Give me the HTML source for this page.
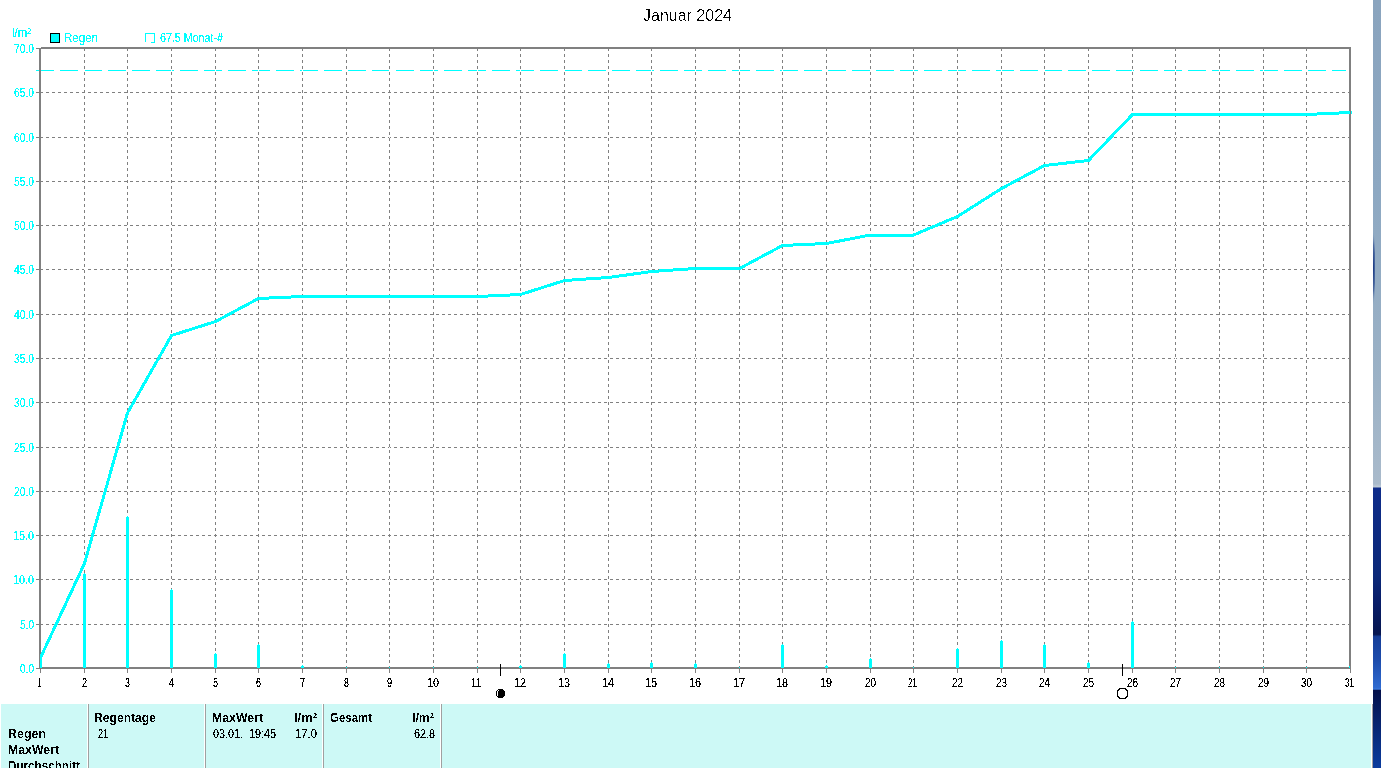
<!DOCTYPE html><html><head><meta charset="utf-8"><title>Januar 2024</title><style>
html,body{margin:0;padding:0;background:#fff;width:1381px;height:768px;overflow:hidden}
svg{display:block;position:absolute;left:0;top:0}
text{font-family:"Liberation Sans",Arial,sans-serif}
.s{font-size:12.5px}
.b{font-size:12px;font-weight:bold}
.t{font-size:16px}
</style></head><body>
<svg width="1381" height="768" viewBox="0 0 1381 768">
<defs><linearGradient id="wp" x1="0" y1="0" x2="0" y2="1"><stop offset="0" stop-color="#8aa4be"/><stop offset="0.25" stop-color="#8da8c2"/><stop offset="0.5" stop-color="#9cb2c6"/><stop offset="0.63" stop-color="#a9bacb"/><stop offset="0.6341" stop-color="#c0ccd8"/><stop offset="0.6354" stop-color="#0e2c8a"/><stop offset="0.75" stop-color="#0b2878"/><stop offset="0.785" stop-color="#081d68"/><stop offset="0.826" stop-color="#061650"/><stop offset="0.829" stop-color="#163e98"/><stop offset="0.86" stop-color="#1d4cac"/><stop offset="0.895" stop-color="#2f6ad0"/><stop offset="0.8975" stop-color="#3a78dc"/><stop offset="0.8985" stop-color="#03104a"/><stop offset="0.923" stop-color="#061c60"/><stop offset="1.0" stop-color="#0b3c9e"/></linearGradient><filter id="cr"><feComponentTransfer><feFuncA type="discrete" tableValues="0 1"/></feComponentTransfer></filter><filter id="cs"><feComponentTransfer><feFuncA type="discrete" tableValues="0 0 1 1 1"/></feComponentTransfer></filter><filter id="ct"><feComponentTransfer><feFuncA type="discrete" tableValues="0 0 0 1 1"/></feComponentTransfer></filter><clipPath id="cw"><rect x="1373" y="0" width="8" height="768"/></clipPath><radialGradient id="st"><stop offset="0" stop-color="#1a3a84"/><stop offset="0.6" stop-color="#3a5a98" stop-opacity="0.8"/><stop offset="1" stop-color="#8daac4" stop-opacity="0"/></radialGradient></defs>
<rect x="1373" y="0" width="8" height="768" fill="url(#wp)"/>
<ellipse clip-path="url(#cw)" cx="1373.6" cy="268" rx="2.0" ry="38" fill="url(#st)"/>
<rect x="1" y="704" width="1372" height="64" fill="#cdf9f6"/>
<g shape-rendering="crispEdges">
<rect x="87" y="704" width="1" height="64" fill="#ffffff"/>
<rect x="88" y="704" width="1" height="64" fill="#a0a0a0"/>
<rect x="204" y="704" width="1" height="64" fill="#ffffff"/>
<rect x="205" y="704" width="1" height="64" fill="#a0a0a0"/>
<rect x="322" y="704" width="1" height="64" fill="#ffffff"/>
<rect x="323" y="704" width="1" height="64" fill="#a0a0a0"/>
<rect x="440" y="704" width="1" height="64" fill="#ffffff"/>
<rect x="441" y="704" width="1" height="64" fill="#a0a0a0"/>
<rect x="1371" y="704" width="1" height="64" fill="#ffffff"/>
<rect x="1372" y="704" width="1" height="64" fill="#a0a0a0"/>
</g>
<g shape-rendering="crispEdges" fill="none" stroke="#808080" stroke-width="1">
<path stroke-dasharray="3 3" d="M40 624.5H1349M40 579.5H1349M40 535.5H1349M40 491.5H1349M40 447.5H1349M40 402.5H1349M40 358.5H1349M40 314.5H1349M40 269.5H1349M40 225.5H1349M40 181.5H1349M40 137.5H1349M40 92.5H1349"/>
<path d="M36 668.5H39M36 624.5H39M36 579.5H39M36 535.5H39M36 491.5H39M36 447.5H39M36 402.5H39M36 358.5H39M36 314.5H39M36 269.5H39M36 225.5H39M36 181.5H39M36 137.5H39M36 92.5H39M36 48.5H39M40.5 669V673M84.5 669V673M127.5 669V673M171.5 669V673M215.5 669V673M258.5 669V673M302.5 669V673M346.5 669V673M389.5 669V673M433.5 669V673M477.5 669V673M520.5 669V673M564.5 669V673M608.5 669V673M651.5 669V673M695.5 669V673M739.5 669V673M782.5 669V673M826.5 669V673M870.5 669V673M913.5 669V673M957.5 669V673M1001.5 669V673M1044.5 669V673M1088.5 669V673M1132.5 669V673M1175.5 669V673M1219.5 669V673M1263.5 669V673M1306.5 669V673M1350.5 669V673"/>
</g>
<path shape-rendering="crispEdges" stroke="#00ffff" stroke-width="1" stroke-dasharray="18 6" d="M36 70.5H1346"/>
<g shape-rendering="crispEdges" fill="none" stroke-width="1"><path stroke="#fff" d="M84.5 48V668M127.5 48V668M171.5 48V668M215.5 48V668M258.5 48V668M302.5 48V668M346.5 48V668M389.5 48V668M433.5 48V668M477.5 48V668M520.5 48V668M564.5 48V668M608.5 48V668M651.5 48V668M695.5 48V668M739.5 48V668M782.5 48V668M826.5 48V668M870.5 48V668M913.5 48V668M957.5 48V668M1001.5 48V668M1044.5 48V668M1088.5 48V668M1132.5 48V668M1175.5 48V668M1219.5 48V668M1263.5 48V668M1306.5 48V668"/><path stroke="#808080" stroke-dasharray="3 3" d="M84.5 48V668M127.5 48V668M171.5 48V668M215.5 48V668M258.5 48V668M302.5 48V668M346.5 48V668M389.5 48V668M433.5 48V668M477.5 48V668M520.5 48V668M564.5 48V668M608.5 48V668M651.5 48V668M695.5 48V668M739.5 48V668M782.5 48V668M826.5 48V668M870.5 48V668M913.5 48V668M957.5 48V668M1001.5 48V668M1044.5 48V668M1088.5 48V668M1132.5 48V668M1175.5 48V668M1219.5 48V668M1263.5 48V668M1306.5 48V668"/></g>
<g shape-rendering="crispEdges" fill="#808080">
<rect x="41" y="47" width="1310" height="1"/>
<rect x="36" y="48" width="1315" height="1"/>
<rect x="39" y="48" width="2" height="621"/>
<rect x="1349" y="47" width="2" height="622"/>
<rect x="39" y="667" width="1312" height="2"/>
<rect x="36" y="668" width="3" height="1"/>
</g>
<g shape-rendering="crispEdges" fill="#00ffff">
<rect x="40" y="655" width="2" height="13"/>
<rect x="40" y="654" width="1" height="1"/>
<rect x="83" y="574" width="3" height="94"/>
<rect x="84" y="573" width="1" height="1"/>
<rect x="126" y="517" width="3" height="151"/>
<rect x="127" y="516" width="1" height="1"/>
<rect x="170" y="590" width="3" height="78"/>
<rect x="171" y="589" width="1" height="1"/>
<rect x="214" y="654" width="3" height="14"/>
<rect x="215" y="653" width="1" height="1"/>
<rect x="257" y="645" width="3" height="23"/>
<rect x="258" y="644" width="1" height="1"/>
<rect x="301" y="666" width="3" height="2"/>
<rect x="302" y="665" width="1" height="1"/>
<rect x="346" y="667" width="1" height="1"/>
<rect x="389" y="667" width="1" height="1"/>
<rect x="433" y="667" width="1" height="1"/>
<rect x="477" y="667" width="1" height="1"/>
<rect x="519" y="666" width="3" height="2"/>
<rect x="520" y="665" width="1" height="1"/>
<rect x="563" y="654" width="3" height="14"/>
<rect x="564" y="653" width="1" height="1"/>
<rect x="607" y="664" width="3" height="4"/>
<rect x="608" y="663" width="1" height="1"/>
<rect x="650" y="663" width="3" height="5"/>
<rect x="651" y="662" width="1" height="1"/>
<rect x="694" y="664" width="3" height="4"/>
<rect x="695" y="663" width="1" height="1"/>
<rect x="739" y="667" width="1" height="1"/>
<rect x="781" y="645" width="3" height="23"/>
<rect x="782" y="644" width="1" height="1"/>
<rect x="825" y="666" width="3" height="2"/>
<rect x="826" y="665" width="1" height="1"/>
<rect x="869" y="659" width="3" height="9"/>
<rect x="870" y="658" width="1" height="1"/>
<rect x="913" y="667" width="1" height="1"/>
<rect x="956" y="649" width="3" height="19"/>
<rect x="957" y="648" width="1" height="1"/>
<rect x="1000" y="641" width="3" height="27"/>
<rect x="1001" y="640" width="1" height="1"/>
<rect x="1043" y="645" width="3" height="23"/>
<rect x="1044" y="644" width="1" height="1"/>
<rect x="1087" y="663" width="3" height="5"/>
<rect x="1088" y="662" width="1" height="1"/>
<rect x="1131" y="622" width="3" height="46"/>
<rect x="1132" y="621" width="1" height="1"/>
<rect x="1175" y="667" width="1" height="1"/>
<rect x="1219" y="667" width="1" height="1"/>
<rect x="1263" y="667" width="1" height="1"/>
<rect x="1306" y="667" width="1" height="1"/>
<rect x="1349" y="666" width="1" height="2"/>
</g>
<polyline shape-rendering="crispEdges" fill="none" stroke="#00ffff" stroke-width="3" stroke-linejoin="round" stroke-linecap="round" points="40.5,657.7 84.5,563.5 127.5,413.0 171.5,335.5 215.5,321.5 258.5,298.5 302.5,296.5 346.5,296.5 389.5,296.5 433.5,296.5 477.5,296.5 520.5,294.5 564.5,280.5 608.5,277.5 651.5,271.5 695.5,268.5 739.5,268.5 782.5,245.5 826.5,243.5 870.5,235.0 913.5,235.0 957.5,216.5 1001.5,188.5 1044.5,165.5 1088.5,160.5 1132.5,114.5 1175.5,114.5 1219.5,114.5 1263.5,114.5 1306.5,114.5 1350.5,112.5"/>
<g shape-rendering="crispEdges" fill="#808080"><rect x="39" y="48" width="1" height="621"/><rect x="1350" y="47" width="1" height="622"/><rect x="36" y="668" width="1315" height="1"/></g>
<g shape-rendering="crispEdges" fill="#000"><rect x="500" y="664" width="1" height="12"/><rect x="1122" y="664" width="1" height="12"/></g>
<path shape-rendering="crispEdges" fill="#000" d="M498 689h5v1h-5zM497 690h7v1h-7zM496 691h9v1h-9zM496 692h9v1h-9zM496 693h9v1h-9zM496 694h9v1h-9zM496 695h9v1h-9zM497 696h7v1h-7zM498 697h5v1h-5z"/>
<path shape-rendering="crispEdges" fill="#fff" d="M498 690h1v1h-1zM497 691h1v5h-1z"/>
<path shape-rendering="crispEdges" fill="#000" d="M1119 688h7v1h-7zM1118 689h2v1h-2zM1125 689h2v1h-2zM1117 690h2v1h-2zM1126 690h2v1h-2zM1117 691h1v1h-1zM1127 691h1v1h-1zM1117 692h1v1h-1zM1127 692h1v1h-1zM1117 693h1v1h-1zM1127 693h1v1h-1zM1117 694h1v1h-1zM1127 694h1v1h-1zM1117 695h1v1h-1zM1127 695h1v1h-1zM1117 696h2v1h-2zM1126 696h2v1h-2zM1118 697h2v1h-2zM1125 697h2v1h-2zM1119 698h7v1h-7z"/>
<rect x="50.5" y="33.5" width="9" height="9" fill="#00ffff" stroke="#000" stroke-width="1" shape-rendering="crispEdges"/>
<path d="M145.5 42V33.5H154.5V42.5H151" fill="none" stroke="#00ffff" stroke-width="1" shape-rendering="crispEdges"/>
<text class="s" x="20.00" y="673" fill="#00ffff" filter="url(#cs)" textLength="14.00" lengthAdjust="spacingAndGlyphs">0.0</text>
<text class="s" x="20.00" y="629" fill="#00ffff" filter="url(#cs)" textLength="14.00" lengthAdjust="spacingAndGlyphs">5.0</text>
<text class="s" x="13.00" y="584" fill="#00ffff" filter="url(#cs)" textLength="21.00" lengthAdjust="spacingAndGlyphs">10.0</text>
<text class="s" x="13.00" y="540" fill="#00ffff" filter="url(#cs)" textLength="21.00" lengthAdjust="spacingAndGlyphs">15.0</text>
<text class="s" x="14.00" y="496" fill="#00ffff" filter="url(#cs)" textLength="20.00" lengthAdjust="spacingAndGlyphs">20.0</text>
<text class="s" x="14.00" y="452" fill="#00ffff" filter="url(#cs)" textLength="20.00" lengthAdjust="spacingAndGlyphs">25.0</text>
<text class="s" x="14.00" y="407" fill="#00ffff" filter="url(#cs)" textLength="20.00" lengthAdjust="spacingAndGlyphs">30.0</text>
<text class="s" x="14.00" y="363" fill="#00ffff" filter="url(#cs)" textLength="20.00" lengthAdjust="spacingAndGlyphs">35.0</text>
<text class="s" x="14.00" y="319" fill="#00ffff" filter="url(#cs)" textLength="20.00" lengthAdjust="spacingAndGlyphs">40.0</text>
<text class="s" x="14.00" y="274" fill="#00ffff" filter="url(#cs)" textLength="20.00" lengthAdjust="spacingAndGlyphs">45.0</text>
<text class="s" x="14.00" y="230" fill="#00ffff" filter="url(#cs)" textLength="20.00" lengthAdjust="spacingAndGlyphs">50.0</text>
<text class="s" x="14.00" y="186" fill="#00ffff" filter="url(#cs)" textLength="20.00" lengthAdjust="spacingAndGlyphs">55.0</text>
<text class="s" x="14.00" y="142" fill="#00ffff" filter="url(#cs)" textLength="20.00" lengthAdjust="spacingAndGlyphs">60.0</text>
<text class="s" x="14.00" y="97" fill="#00ffff" filter="url(#cs)" textLength="20.00" lengthAdjust="spacingAndGlyphs">65.0</text>
<text class="s" x="14.00" y="53" fill="#00ffff" filter="url(#cs)" textLength="20.00" lengthAdjust="spacingAndGlyphs">70.0</text>
<text class="s" x="12.00" y="37" fill="#00ffff" filter="url(#cs)" textLength="19.00" lengthAdjust="spacingAndGlyphs">l/m²</text>
<text class="s" x="64.00" y="42" fill="#00ffff" filter="url(#cs)" textLength="34.00" lengthAdjust="spacingAndGlyphs">Regen</text>
<text class="s" x="160.00" y="42" fill="#00ffff" filter="url(#cs)" textLength="63.00" lengthAdjust="spacingAndGlyphs">67.5 Monat-#</text>
<text class="t" x="643.00" y="21" fill="#000" filter="url(#ct)">Januar 2024</text>
<text class="b" x="94.00" y="722" fill="#000" filter="url(#cr)" textLength="62.00" lengthAdjust="spacingAndGlyphs">Regentage</text>
<text class="s" x="98.00" y="738" fill="#000" filter="url(#cs)" textLength="10.00" lengthAdjust="spacingAndGlyphs">21</text>
<text class="b" x="212.00" y="722" fill="#000" filter="url(#cr)" textLength="51.00" lengthAdjust="spacingAndGlyphs">MaxWert</text>
<text class="s" x="213.00" y="738" fill="#000" filter="url(#cs)" textLength="63.00" lengthAdjust="spacingAndGlyphs">03.01.  19:45</text>
<text class="b" x="294.00" y="722" fill="#000" filter="url(#cr)" textLength="23.00" lengthAdjust="spacingAndGlyphs">l/m²</text>
<text class="s" x="295.00" y="738" fill="#000" filter="url(#cs)" textLength="22.00" lengthAdjust="spacingAndGlyphs">17.0</text>
<text class="b" x="330.00" y="722" fill="#000" filter="url(#cr)" textLength="42.00" lengthAdjust="spacingAndGlyphs">Gesamt</text>
<text class="b" x="412.00" y="722" fill="#000" filter="url(#cr)" textLength="22.00" lengthAdjust="spacingAndGlyphs">l/m²</text>
<text class="s" x="414.00" y="738" fill="#000" filter="url(#cs)" textLength="21.00" lengthAdjust="spacingAndGlyphs">62.8</text>
<text class="b" x="8.00" y="738" fill="#000" filter="url(#cr)" textLength="38.00" lengthAdjust="spacingAndGlyphs">Regen</text>
<text class="b" x="8.00" y="754" fill="#000" filter="url(#cr)" textLength="51.00" lengthAdjust="spacingAndGlyphs">MaxWert</text>
<text class="b" x="8.00" y="770" fill="#000" filter="url(#cr)" textLength="72.00" lengthAdjust="spacingAndGlyphs">Durchschnitt</text>
<text class="s" x="38.00" y="687" fill="#000" filter="url(#cs)" textLength="3.00" lengthAdjust="spacingAndGlyphs">1</text>
<text class="s" x="82.00" y="687" fill="#000" filter="url(#cs)" textLength="5.00" lengthAdjust="spacingAndGlyphs">2</text>
<text class="s" x="125.00" y="687" fill="#000" filter="url(#cs)" textLength="5.00" lengthAdjust="spacingAndGlyphs">3</text>
<text class="s" x="169.00" y="687" fill="#000" filter="url(#cs)" textLength="5.00" lengthAdjust="spacingAndGlyphs">4</text>
<text class="s" x="213.00" y="687" fill="#000" filter="url(#cs)" textLength="5.00" lengthAdjust="spacingAndGlyphs">5</text>
<text class="s" x="256.00" y="687" fill="#000" filter="url(#cs)" textLength="5.00" lengthAdjust="spacingAndGlyphs">6</text>
<text class="s" x="300.00" y="687" fill="#000" filter="url(#cs)" textLength="5.00" lengthAdjust="spacingAndGlyphs">7</text>
<text class="s" x="344.00" y="687" fill="#000" filter="url(#cs)" textLength="5.00" lengthAdjust="spacingAndGlyphs">8</text>
<text class="s" x="387.00" y="687" fill="#000" filter="url(#cs)" textLength="5.00" lengthAdjust="spacingAndGlyphs">9</text>
<text class="s" x="427.00" y="687" fill="#000" filter="url(#cs)" textLength="12.00" lengthAdjust="spacingAndGlyphs">10</text>
<text class="s" x="471.00" y="687" fill="#000" filter="url(#cs)" textLength="10.00" lengthAdjust="spacingAndGlyphs">11</text>
<text class="s" x="514.00" y="687" fill="#000" filter="url(#cs)" textLength="12.00" lengthAdjust="spacingAndGlyphs">12</text>
<text class="s" x="558.00" y="687" fill="#000" filter="url(#cs)" textLength="12.00" lengthAdjust="spacingAndGlyphs">13</text>
<text class="s" x="602.00" y="687" fill="#000" filter="url(#cs)" textLength="12.00" lengthAdjust="spacingAndGlyphs">14</text>
<text class="s" x="645.00" y="687" fill="#000" filter="url(#cs)" textLength="12.00" lengthAdjust="spacingAndGlyphs">15</text>
<text class="s" x="689.00" y="687" fill="#000" filter="url(#cs)" textLength="12.00" lengthAdjust="spacingAndGlyphs">16</text>
<text class="s" x="733.00" y="687" fill="#000" filter="url(#cs)" textLength="12.00" lengthAdjust="spacingAndGlyphs">17</text>
<text class="s" x="776.00" y="687" fill="#000" filter="url(#cs)" textLength="12.00" lengthAdjust="spacingAndGlyphs">18</text>
<text class="s" x="820.00" y="687" fill="#000" filter="url(#cs)" textLength="12.00" lengthAdjust="spacingAndGlyphs">19</text>
<text class="s" x="865.00" y="687" fill="#000" filter="url(#cs)" textLength="11.00" lengthAdjust="spacingAndGlyphs">20</text>
<text class="s" x="908.00" y="687" fill="#000" filter="url(#cs)" textLength="9.00" lengthAdjust="spacingAndGlyphs">21</text>
<text class="s" x="952.00" y="687" fill="#000" filter="url(#cs)" textLength="11.00" lengthAdjust="spacingAndGlyphs">22</text>
<text class="s" x="996.00" y="687" fill="#000" filter="url(#cs)" textLength="11.00" lengthAdjust="spacingAndGlyphs">23</text>
<text class="s" x="1039.00" y="687" fill="#000" filter="url(#cs)" textLength="11.00" lengthAdjust="spacingAndGlyphs">24</text>
<text class="s" x="1083.00" y="687" fill="#000" filter="url(#cs)" textLength="11.00" lengthAdjust="spacingAndGlyphs">25</text>
<text class="s" x="1127.00" y="687" fill="#000" filter="url(#cs)" textLength="11.00" lengthAdjust="spacingAndGlyphs">26</text>
<text class="s" x="1170.00" y="687" fill="#000" filter="url(#cs)" textLength="11.00" lengthAdjust="spacingAndGlyphs">27</text>
<text class="s" x="1214.00" y="687" fill="#000" filter="url(#cs)" textLength="11.00" lengthAdjust="spacingAndGlyphs">28</text>
<text class="s" x="1258.00" y="687" fill="#000" filter="url(#cs)" textLength="11.00" lengthAdjust="spacingAndGlyphs">29</text>
<text class="s" x="1301.00" y="687" fill="#000" filter="url(#cs)" textLength="11.00" lengthAdjust="spacingAndGlyphs">30</text>
<text class="s" x="1345.00" y="687" fill="#000" filter="url(#cs)" textLength="9.00" lengthAdjust="spacingAndGlyphs">31</text>
</svg></body></html>
